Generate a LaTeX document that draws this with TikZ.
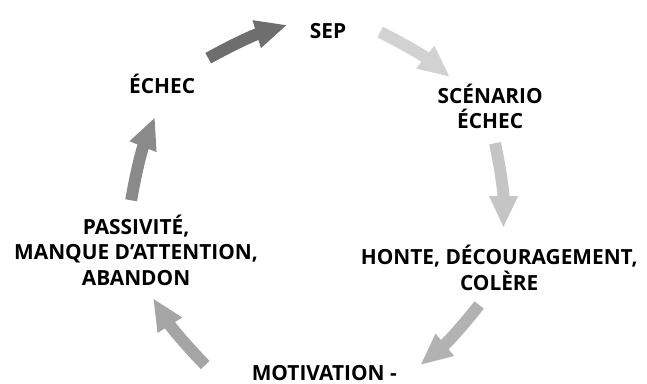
\documentclass[tikz,border=0pt]{standalone}
\usepackage{fontspec}
\setmainfont{Open Sans}
\usetikzlibrary{arrows.meta}

\definecolor{cycA}{HTML}{D2D2D2}
\definecolor{cycB}{HTML}{C5C5C5}
\definecolor{cycC}{HTML}{B2B2B2}
\definecolor{cycD}{HTML}{A5A5A5}
\definecolor{cycE}{HTML}{8A8A8A}
\definecolor{cycF}{HTML}{6E6E6E}

\tikzset{
  stage/.style={font=\fontsize{15.7}{19}\selectfont\bfseries, align=center, inner sep=0pt},
  cyc/.style={line width=9pt, -{Triangle[length=24pt,width=20pt]}},
}

\begin{document}
\begin{tikzpicture}
  \useasboundingbox (-8.47,-4.58) rectangle (8.65,5.56);

  % stages of the cycle
  \node[stage] (sep) at (0.21,4.74) {SEP};
  \node[stage] (scenario) at (4.50,2.75) {SCÉNARIO\\ÉCHEC};
  \node[stage] (honte) at (4.74,-1.53) {HONTE, DÉCOURAGEMENT,\\COLÈRE};
  \node[stage, anchor=base] (motivation) at (0.11,-4.50) {MOTIVATION -};
  \node[stage] (passivite) at (-4.87,-1.06) {PASSIVITÉ,\\MANQUE D’ATTENTION,\\ABANDON};
  \node[stage] (echec) at (-4.18,3.33) {ÉCHEC};

  % arrows round the circle
  \draw[cyc, cycA] ([shift={(1.38,-0.03)}]sep.center) to[bend left=6] ([shift={(-1.06,0.77)}]scenario.center);
  \draw[cyc, cycB] ([shift={(0.13,-0.98)}]scenario.center) to[bend left=6] ([shift={(0.11,1.06)}]honte.center);
  \draw[cyc, cycC] ([shift={(-0.53,-0.98)}]honte.center) to[bend left=6] ([shift={(2.54,0.40)}]motivation.base);
  \draw[cyc, cycD] ([shift={(-3.15,0.40)}]motivation.base) to[bend left=6] ([shift={(0.45,-1.27)}]passivite.center);
  \draw[cyc, cycE] ([shift={(-0.13,1.32)}]passivite.center) to[bend left=6] ([shift={(-0.19,-0.87)}]echec.center);
  \draw[cyc, cycF] ([shift={(1.22,0.69)}]echec.center) to[bend left=6] ([shift={(-1.08,0.16)}]sep.center);

\end{tikzpicture}
\end{document}
